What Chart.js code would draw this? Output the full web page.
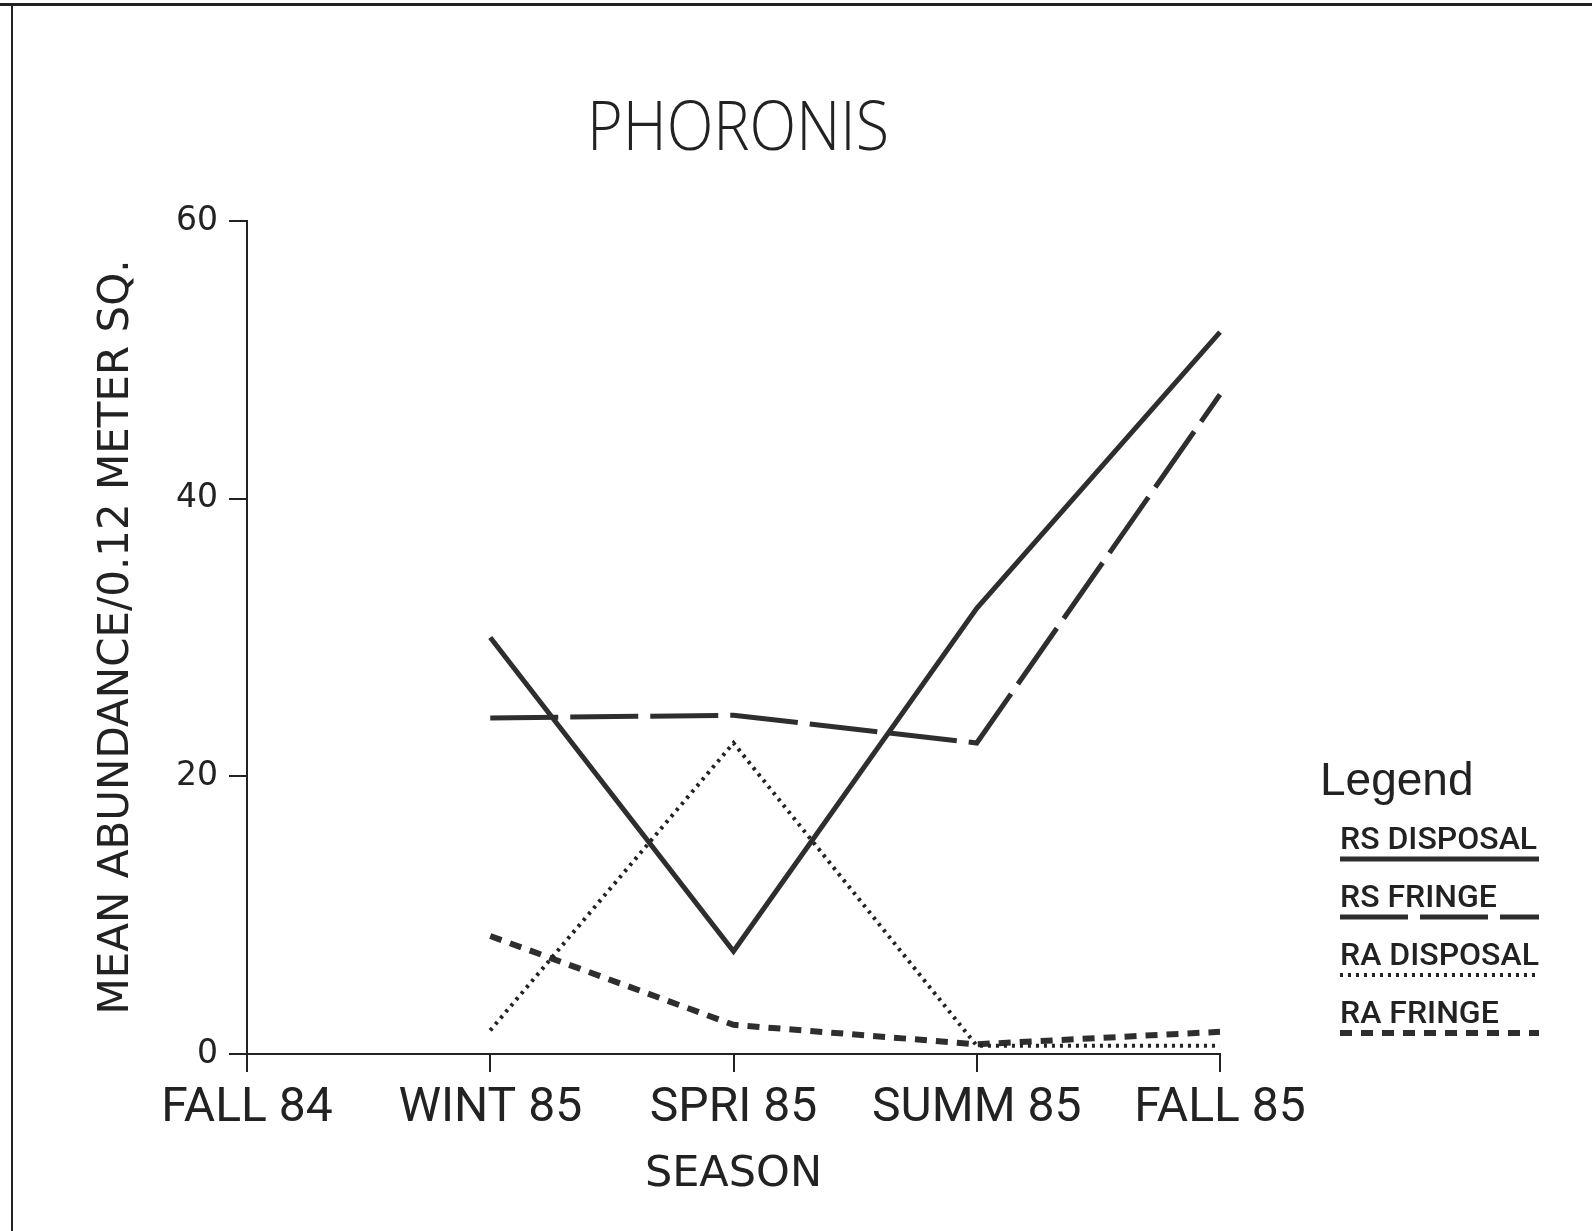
<!DOCTYPE html>
<html>
<head>
<meta charset="utf-8">
<title>PHORONIS</title>
<script src="https://cdn.jsdelivr.net/npm/chart.js@4.4.1/dist/chart.umd.min.js"></script>
<style>
  html, body { margin: 0; padding: 0; background: #fff; }
  canvas { display: block; }
</style>
</head>
<body>
<canvas id="phoronisChart" width="1592" height="1231"></canvas>
<script>
// seasons along the x axis
const seasons = ['FALL 84', 'WINT 85', 'SPRI 85', 'SUMM 85', 'FALL 85'];
const yTicks = [0, 20, 40, 60];

// mean abundance per 0.12 m^2 (no sample in fall 84)
const rsDisposal = [null, 30.0, 7.4, 32.1, 52.0];
const rsFringe   = [null, 24.2, 24.4, 22.4, 47.5];
const raDisposal = [null, 1.7, 22.4, 0.6, 0.6];
const raFringe   = [null, 8.5, 2.1, 0.7, 1.6];

const ink = '#2e2e2e';
const labelFont = 'DejaVu Sans';

// title, axis names, page frame and the legend block at the right
const decorations = {
  id: 'decorations',
  afterDraw(chart) {
    const ctx = chart.ctx;
    const area = chart.chartArea;
    ctx.save();

    // frame on top and left edge
    ctx.fillStyle = '#222';
    ctx.fillRect(0, 3, 1592, 3);
    ctx.fillRect(11, 3, 2, 1228);

    // thin, narrow title lettering
    ctx.textAlign = 'center';
    ctx.textBaseline = 'alphabetic';
    ctx.font = '300 68px "Open Sans"';
    const tw = ctx.measureText('PHORONIS').width;
    ctx.save();
    ctx.translate(738, 150);
    ctx.scale(302 / tw, 1);
    ctx.fillText('PHORONIS', 0, 0);
    ctx.restore();

    ctx.font = '43px ' + labelFont;
    ctx.fillText('SEASON', (area.left + area.right) / 2, 1186);

    ctx.save();
    ctx.translate(117, 637);
    ctx.rotate(-Math.PI / 2);
    ctx.textBaseline = 'middle';
    ctx.font = '42px ' + labelFont;
    ctx.fillText('MEAN ABUNDANCE/0.12 METER SQ.', 0, 0);
    ctx.restore();

    // legend: name with a sample of the line underneath
    ctx.textAlign = 'left';
    ctx.font = '46px "Liberation Sans"';
    ctx.fillText('Legend', 1320, 795);

    const x0 = 1340, x1 = 1539;
    ctx.font = '500 32px Roboto';
    chart.data.datasets.forEach((ds, i) => {
      const base = 849 + i * 58;
      ctx.fillStyle = '#222';
      ctx.fillText(ds.label, x0, base);
      ctx.beginPath();
      ctx.setLineDash(ds.borderDash || []);
      ctx.lineWidth = ds.borderWidth;
      ctx.strokeStyle = ds.borderColor;
      ctx.moveTo(x0, base + 10);
      ctx.lineTo(x1, base + 10);
      ctx.stroke();
    });
    ctx.restore();
  }
};

const phoronisChart = new Chart(document.getElementById('phoronisChart'), {
  type: 'line',
  data: {
    labels: seasons,
    datasets: [
      { label: 'RS DISPOSAL', data: rsDisposal, borderColor: ink, borderWidth: 5, borderDash: [] },
      { label: 'RS FRINGE', data: rsFringe, borderColor: ink, borderWidth: 5, borderDash: [68, 12] },
      { label: 'RA DISPOSAL', data: raDisposal, borderColor: '#222', borderWidth: 4, borderDash: [3, 5] },
      { label: 'RA FRINGE', data: raFringe, borderColor: ink, borderWidth: 6, borderDash: [12, 9] }
    ]
  },
  options: {
    responsive: false,
    animation: false,
    devicePixelRatio: 1,
    elements: {
      point: { radius: 0, hoverRadius: 0 },
      line: { tension: 0, borderCapStyle: 'butt' }
    },
    layout: { padding: { left: 0, top: 221, right: 372, bottom: 0 } },
    plugins: {
      legend: { display: false },
      title: { display: false },
      tooltip: { enabled: false }
    },
    scales: {
      x: {
        offset: false,
        grid: { drawOnChartArea: false, color: '#222', lineWidth: 2, tickLength: 18 },
        border: { color: '#222', width: 2 },
        ticks: { color: '#222', font: { family: 'Roboto', size: 48 }, padding: 8, maxRotation: 0 },
        afterFit(scale) { scale.height = 177; }
      },
      y: {
        min: 0,
        max: 60,
        afterBuildTicks(scale) { scale.ticks = yTicks.map(v => ({ value: v })); },
        grid: { drawOnChartArea: false, color: '#222', lineWidth: 2, tickLength: 18 },
        border: { color: '#222', width: 2 },
        ticks: { color: '#222', font: { family: labelFont, size: 33 }, padding: 11 },
        afterFit(scale) { scale.width = 247; }
      }
    }
  },
  plugins: [decorations]
});
</script>
</body>
</html>
